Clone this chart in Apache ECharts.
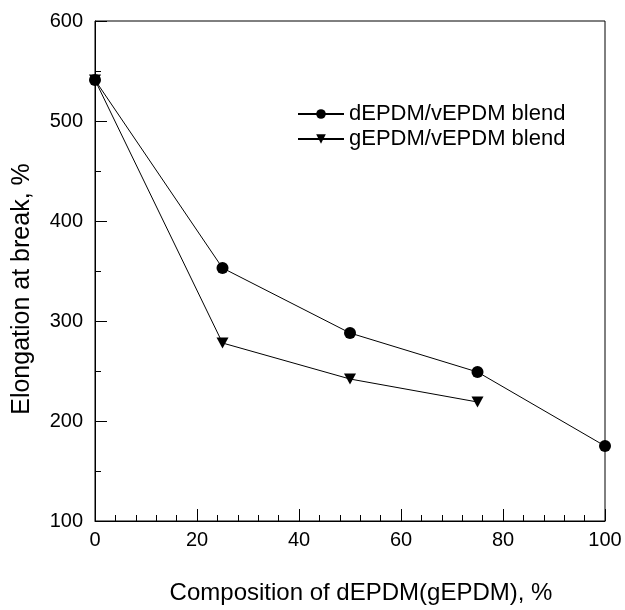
<!DOCTYPE html>
<html>
<head>
<meta charset="utf-8">
<script src="https://cdn.jsdelivr.net/npm/echarts@6/dist/echarts.min.js"></script>
<style>
  html, body { margin: 0; padding: 0; background: #fff; }
  #main { width: 625px; height: 610px; }
</style>
</head>
<body>
<div id="main"></div>
<script>
// composition of dEPDM (gEPDM), %
var composition = [0, 25, 50, 75, 100];
var compositionG = [0, 25, 50, 75];
// elongation at break, %
var dBlend = [541, 353, 288, 249, 175];
var gBlend = [541, 278, 242, 219];
var seriesNames = ['dEPDM/vEPDM blend', 'gEPDM/vEPDM blend'];

function pairs(xs, ys) {
    return xs.map(function (x, i) { return [x, ys[i]]; });
}

var font = '"Liberation Sans", Arial, Helvetica, sans-serif';
var myChart = echarts.init(document.getElementById('main'));

myChart.setOption({
    animation: false,
    backgroundColor: '#fff',
    textStyle: { fontFamily: font, color: '#000' },
    grid: {
        left: 95, right: 20, top: 21, bottom: 81,
        show: true, borderColor: '#000', borderWidth: 1, backgroundColor: 'transparent'
    },
    legend: {
        orient: 'vertical',
        left: 297, top: 103,
        padding: 0,
        itemWidth: 46, itemHeight: 12, itemGap: 3,
        textStyle: { fontFamily: font, fontSize: 22, color: '#000' },
        data: seriesNames
    },
    xAxis: {
        type: 'value',
        min: 0, max: 100, interval: 20,
        name: 'Composition of dEPDM(gEPDM), %',
        nameLocation: 'middle',
        nameGap: 60,
        nameTextStyle: { fontFamily: font, fontSize: 24, color: '#000', padding: [0, 0, 0, 22] },
        axisLine: { lineStyle: { color: '#000', width: 1 } },
        axisTick: { inside: true, length: 12, lineStyle: { color: '#000' } },
        minorTick: { show: true, splitNumber: 5, length: 6, lineStyle: { color: '#000' } },
        axisLabel: { margin: 9, fontSize: 20, color: '#000', fontFamily: font },
        splitLine: { show: false }
    },
    yAxis: {
        type: 'value',
        min: 100, max: 600, interval: 100,
        name: 'Elongation at break, %',
        nameLocation: 'middle',
        nameGap: 60,
        nameTextStyle: { fontFamily: font, fontSize: 25, color: '#000', padding: [0, 36, 0, 0] },
        axisLine: { show: true, lineStyle: { color: '#000', width: 1 } },
        axisTick: { show: true, inside: true, length: 12, lineStyle: { color: '#000' } },
        minorTick: { show: true, splitNumber: 2, length: 6, lineStyle: { color: '#000' } },
        axisLabel: { margin: 12, fontSize: 20, color: '#000', fontFamily: font },
        splitLine: { show: false }
    },
    series: [{
        name: seriesNames[0],
        type: 'line',
        data: pairs(composition, dBlend),
        symbol: 'circle',
        symbolSize: 12,
        lineStyle: { color: '#000', width: 1 },
        itemStyle: { color: '#000' }
    }, {
        name: seriesNames[1],
        type: 'line',
        data: pairs(compositionG, gBlend),
        symbol: 'triangle',
        symbolRotate: 180,
        symbolSize: [12, 11],
        lineStyle: { color: '#000', width: 1 },
        itemStyle: { color: '#000' }
    }]
});
</script>
</body>
</html>
